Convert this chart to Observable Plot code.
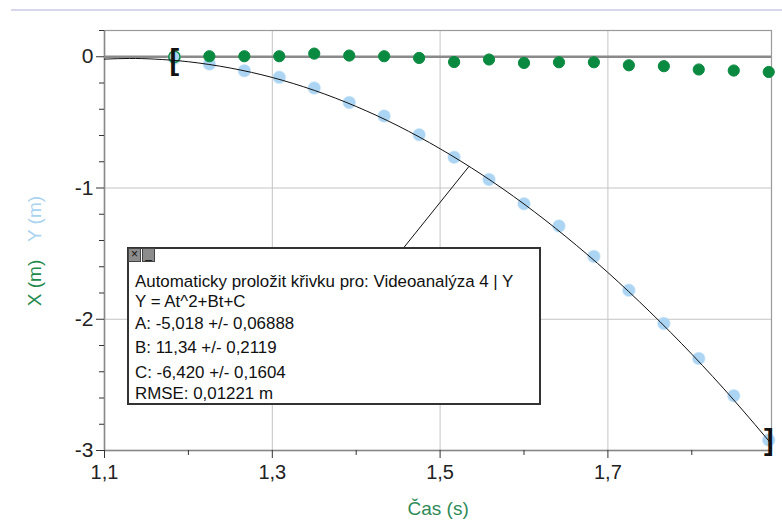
<!DOCTYPE html>
<html>
<head>
<meta charset="utf-8">
<script src="https://cdn.jsdelivr.net/npm/d3@7"></script>
<script src="https://cdn.jsdelivr.net/npm/@observablehq/plot@0.6"></script>
<style>
  html, body { margin: 0; padding: 0; background: #fff; }
  #wrap { position: relative; width: 782px; height: 522px; overflow: hidden; font-family: "Liberation Sans", Arial, sans-serif; }
  #chart { position: absolute; left: 0; top: 0; }
  .topline { position: absolute; left: 11px; top: 9px; width: 771px; height: 2px; background: #d6d6ec; }
  .ylab { position: absolute; font-size: 19px; white-space: nowrap; transform-origin: center center; }
  .xlab { position: absolute; font-size: 19px; color: #2e8b57; white-space: nowrap; }
  #box { position: absolute; left: 127px; top: 247px; width: 414px; height: 158px; box-sizing: border-box; border: 2px solid #333; background: #fff; }
  #box .ln { position: absolute; left: 6px; font-size: 16.9px; line-height: 20px; color: #111; white-space: nowrap; }
  .btn { position: absolute; top: -1px; width: 13px; height: 14px; background: #8c8c8c; border: 1px solid #444; box-sizing: border-box; font-size: 12px; line-height: 11px; text-align: center; color: #111; }
</style>
</head>
<body>
<div id="wrap">
  <div class="topline"></div>
  <div id="chart"></div>
  <div class="ylab" id="labX" style="color:#1f8a4c;">X (m)</div>
  <div class="ylab" id="labY" style="color:#a9d3f0;">Y (m)</div>
  <div class="xlab" id="labT">Čas (s)</div>
  <div id="box"></div>
</div>
<script>
// ---- data ----
const timeS = [1.1833, 1.2250, 1.2667, 1.3083, 1.3500, 1.3917, 1.4333, 1.4750, 1.5167, 1.5583, 1.6000, 1.6417, 1.6833, 1.7250, 1.7667, 1.8083, 1.8500, 1.8917];
const xM = [0.000, 0.004, 0.004, 0.004, 0.024, 0.009, 0.004, -0.009, -0.040, -0.021, -0.047, -0.042, -0.042, -0.065, -0.072, -0.097, -0.105, -0.116];
const yM = [-0.012, -0.056, -0.106, -0.157, -0.238, -0.348, -0.452, -0.595, -0.766, -0.935, -1.120, -1.290, -1.521, -1.779, -2.033, -2.299, -2.583, -2.920];

// fitted curve Y = At^2+Bt+C, sampled values
const fitT = [1.10, 1.13, 1.16, 1.20, 1.25, 1.30, 1.35, 1.40, 1.45, 1.50, 1.55, 1.60, 1.65, 1.70, 1.75, 1.80, 1.85, 1.90];
const fitY = [-0.018, -0.013, -0.018, -0.038, -0.086, -0.158, -0.256, -0.379, -0.527, -0.701, -0.899, -1.122, -1.371, -1.644, -1.943, -2.266, -2.615, -2.989];
const fitRange = [1.1833, 1.8917];
const fitRangeY = [-0.027, -2.925];

const xTicks = [1.1, 1.3, 1.5, 1.7];
const xMinor = [1.2, 1.4, 1.6, 1.8];
const yTicks = [0, -1, -2, -3];
const yMinor = [0.2, -0.2, -0.4, -0.6, -0.8, -1.2, -1.4, -1.6, -1.8, -2.2, -2.4, -2.6, -2.8];

const boxLines = [
  "Automaticky proložit křivku pro: Videoanalýza 4 | Y",
  "Y = At^2+Bt+C",
  "A: -5,018 +/- 0,06888",
  "B: 11,34 +/- 0,2119",
  "C: -6,420 +/- 0,1604",
  "RMSE: 0,01221 m"
];
const leader = [{t1: 1.5345, y1: -0.835, t2: 1.457, y2: -1.452}];

// ---- build ----
const pts = timeS.map((t, i) => ({t, x: xM[i], y: yM[i], i}));
const fit = fitT.map((t, i) => ({t, y: fitY[i]}));
const brackets = [
  {t: fitRange[0], y: fitRangeY[0], s: "[", a: "start"},
  {t: fitRange[1], y: fitRangeY[1], s: "]", a: "end"}
];
const green = "#0a8a40";
const blue = "#acd5f3";
const fmtX = d => d.toFixed(1).replace(".", ",");
const fmtY = d => String(d);

const chart = Plot.plot({
  width: 782,
  height: 522,
  marginLeft: 104,
  marginRight: 11,
  marginTop: 30,
  marginBottom: 72,
  style: {fontFamily: "Liberation Sans, Arial, sans-serif", background: "transparent", color: "#222"},
  x: {domain: [1.1, 1.895]},
  y: {domain: [-3, 0.2]},
  marks: [
    Plot.gridX(xTicks.slice(1), {stroke: "#c4c4c4", strokeOpacity: 1}),
    Plot.gridY([-1, -2], {stroke: "#c4c4c4", strokeOpacity: 1}),
    Plot.frame({stroke: "#9a9a9a", strokeWidth: 1.2}),
    Plot.ruleX([1.1], {stroke: "#888", strokeWidth: 1.5}),
    Plot.ruleY([-3], {stroke: "#888", strokeWidth: 1.5}),
    Plot.ruleY([0], {stroke: "#8a8a8a", strokeWidth: 2.5}),
    Plot.axisY(yTicks, {tickSize: 8, tickPadding: 3, tickFormat: fmtY, fontSize: 21, stroke: "#333", fill: "#222", label: null}),
    Plot.axisY(yMinor, {tickSize: 5, tickFormat: () => "", stroke: "#333", label: null}),
    Plot.axisX(xTicks, {tickSize: 8, tickPadding: 6, tickFormat: fmtX, fontSize: 20, stroke: "#333", fill: "#222", label: null}),
    Plot.axisX(xMinor, {tickSize: 5, tickFormat: () => "", stroke: "#333", label: null}),
    Plot.dot(pts, {x: "t", y: "y", r: 6, fill: blue, stroke: blue, strokeOpacity: 0.5, strokeWidth: 1.5}),
    Plot.dot(pts, {x: "t", y: "x", r: 5.6, fill: d => d.i === 0 ? "none" : green, stroke: green, strokeWidth: d => d.i === 0 ? 1.5 : 1}),
    Plot.line(fit, {x: "t", y: "y", curve: "natural", stroke: "#111", strokeWidth: 1, clip: true}),
    Plot.link(leader, {x1: "t1", y1: "y1", x2: "t2", y2: "y2", stroke: "#111", strokeWidth: 1}),
    Plot.text(brackets, {x: "t", y: "y", text: "s", textAnchor: "a", fontSize: 29, fontWeight: "bold", fill: "#111", lineAnchor: "middle"})
  ]
});
document.getElementById("chart").appendChild(chart);

// labels
function place(el, cx, cy, rot) {
  const w = el.offsetWidth, h = el.offsetHeight;
  el.style.left = (cx - w / 2) + "px";
  el.style.top = (cy - h / 2) + "px";
  if (rot) el.style.transform = "rotate(-90deg)";
}
place(document.getElementById("labX"), 35, 283, true);
place(document.getElementById("labY"), 35, 219, true);
place(document.getElementById("labT"), 438, 509, false);

// info box
const box = document.getElementById("box");
const b1 = document.createElement("div"); b1.className = "btn"; b1.style.left = "-1px"; b1.textContent = "×"; box.appendChild(b1);
const b2 = document.createElement("div"); b2.className = "btn"; b2.style.left = "13px"; b2.textContent = "_"; box.appendChild(b2);
const centers = [281.7, 301.7, 324, 348, 373, 394];
boxLines.forEach((s, i) => {
  const d = document.createElement("div");
  d.className = "ln";
  d.textContent = s;
  d.style.top = (centers[i] - 247 - 2 - 10) + "px";
  box.appendChild(d);
});
</script>
</body>
</html>
